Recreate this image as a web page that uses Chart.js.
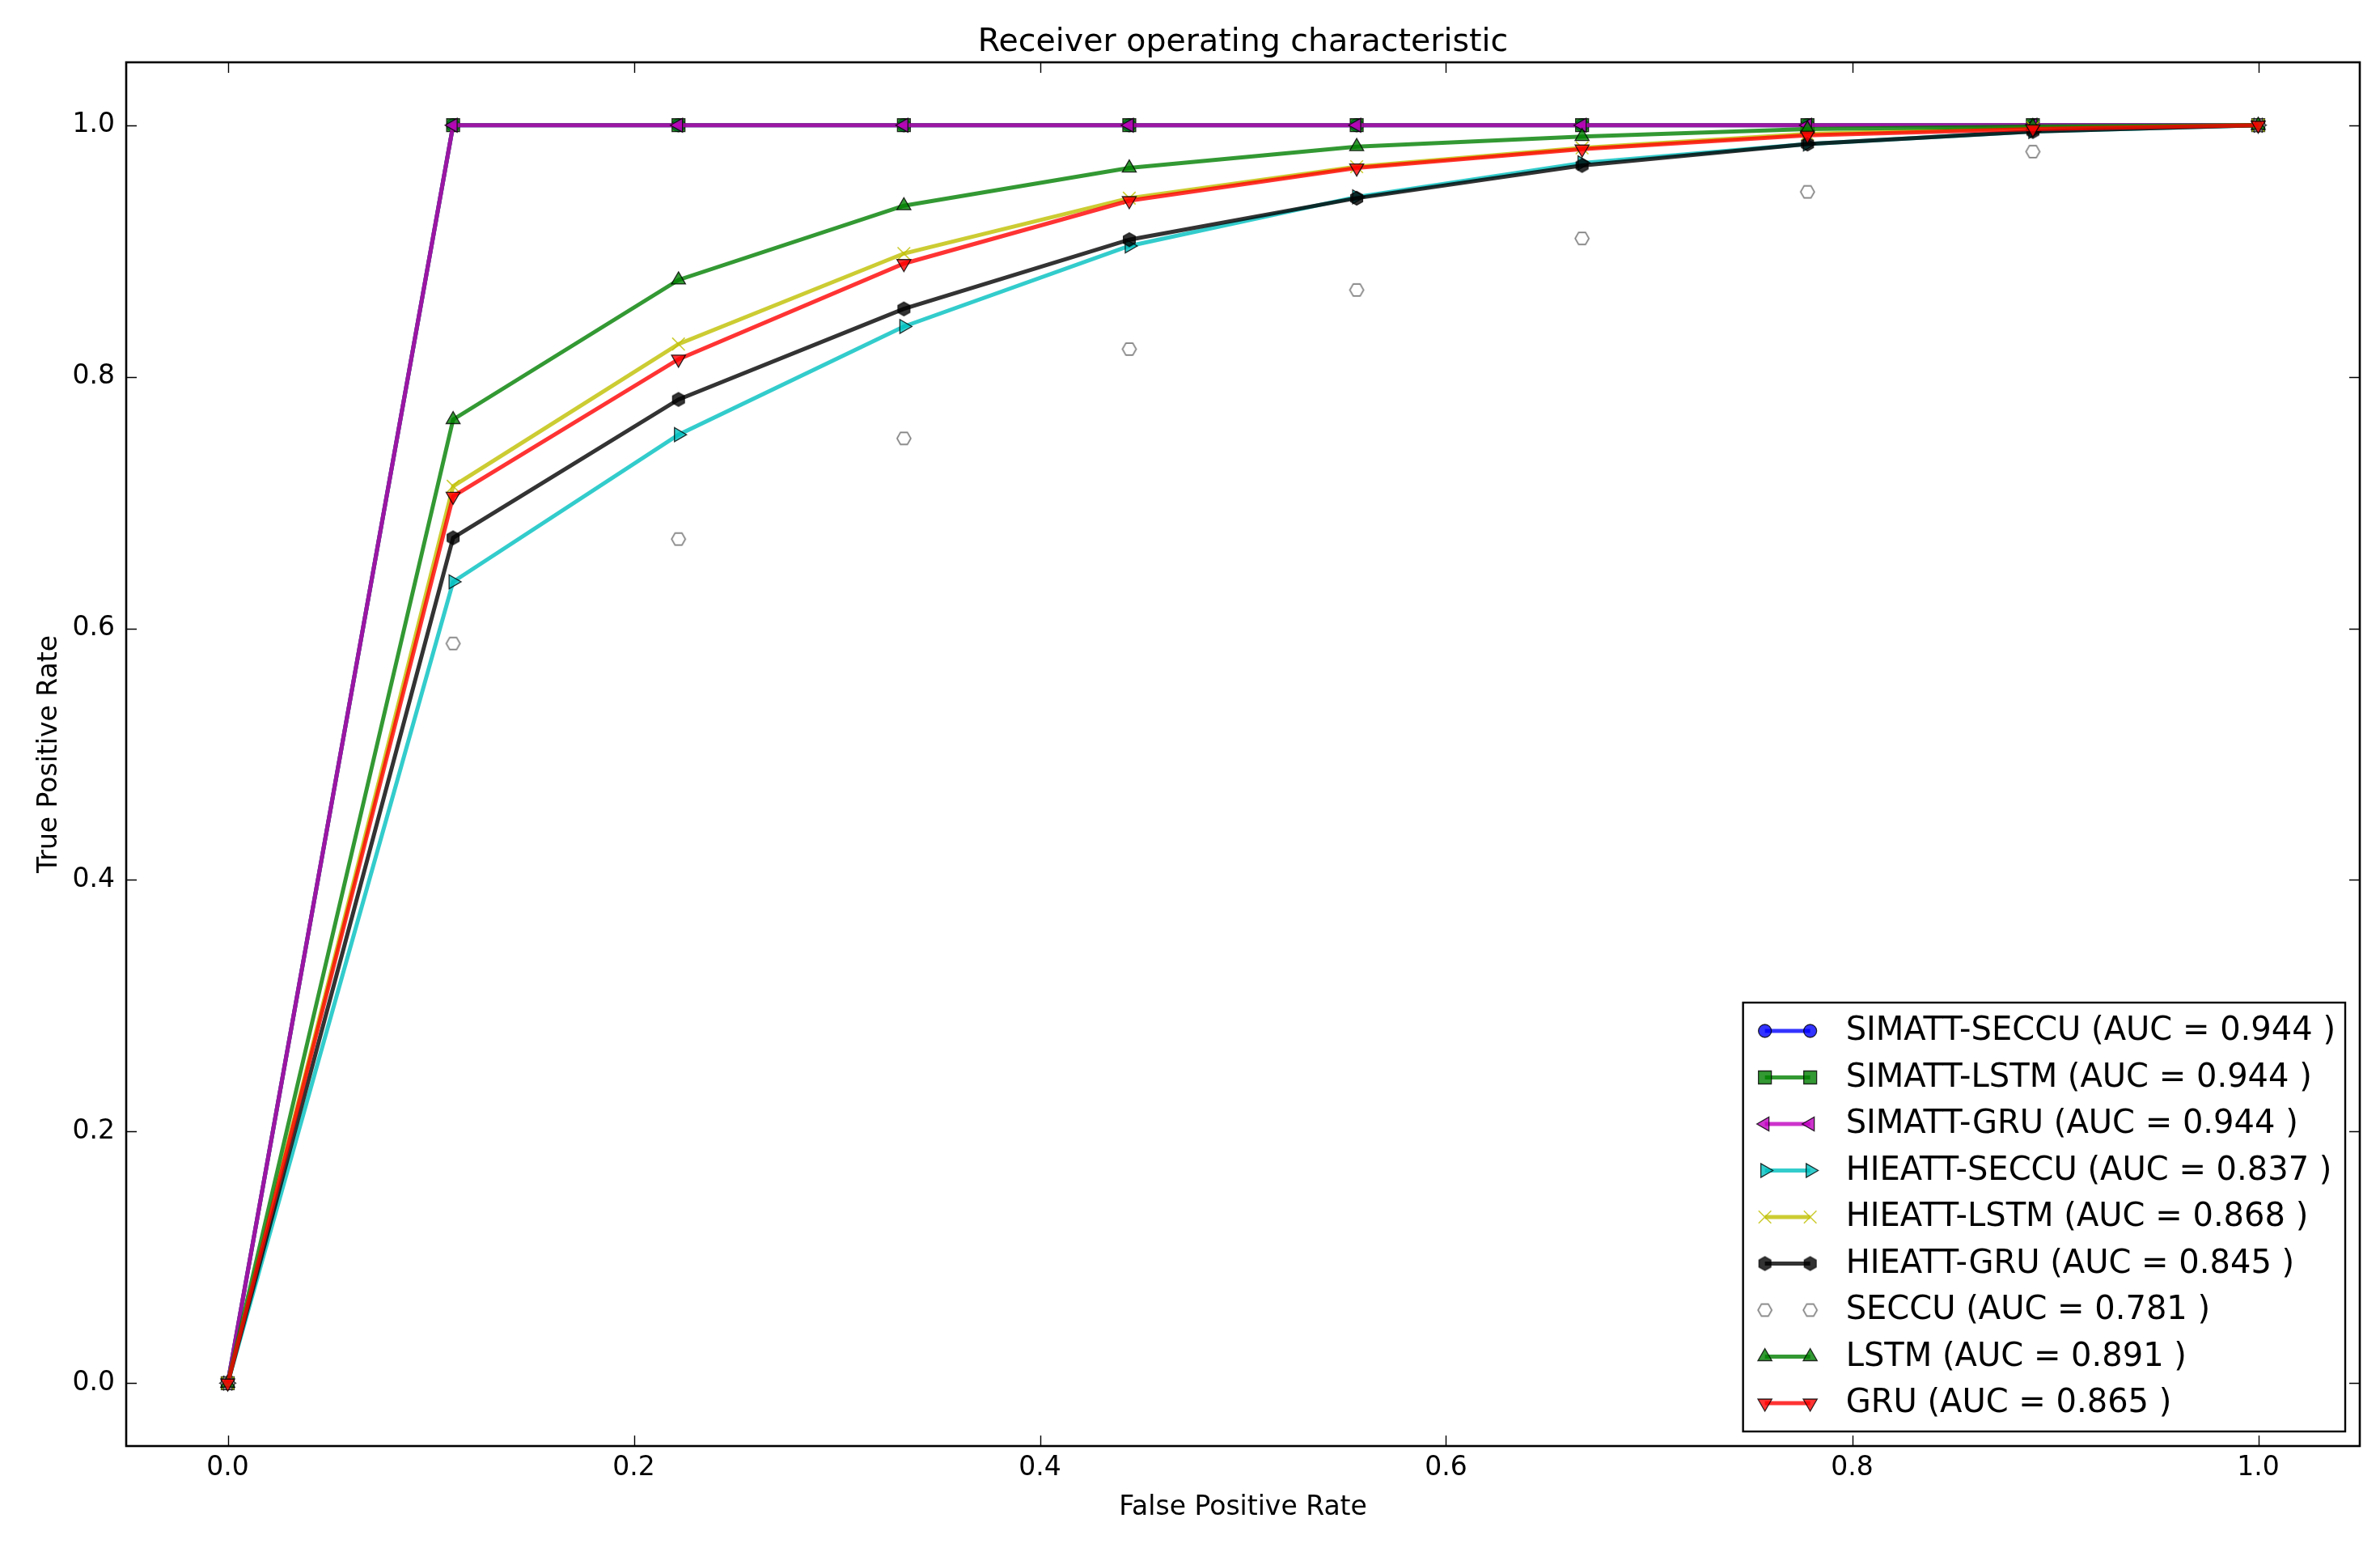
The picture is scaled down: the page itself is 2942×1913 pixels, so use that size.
<!DOCTYPE html>
<html>
<head>
<meta charset="utf-8">
<title>Receiver operating characteristic</title>
<script src="https://cdn.jsdelivr.net/npm/chart.js@4.4.1/dist/chart.umd.min.js"></script>
<style>
  html, body { margin: 0; padding: 0; background: #fff; }
  #wrap { width: 2942px; height: 1913px; }
</style>
</head>
<body>
<div id="wrap"><canvas id="roc"></canvas></div>
<script>
// false positive rate (shared x for every curve)
const fpr = [0, 0.111, 0.222, 0.333, 0.444, 0.556, 0.667, 0.778, 0.889, 1.0];

// true positive rate per model
const simattSeccu = [0, 1.0, 1.0, 1.0, 1.0, 1.0, 1.0, 1.0, 1.0, 1.0];
const simattLstm  = [0, 1.0, 1.0, 1.0, 1.0, 1.0, 1.0, 1.0, 1.0, 1.0];
const simattGru   = [0, 1.0, 1.0, 1.0, 1.0, 1.0, 1.0, 1.0, 1.0, 1.0];
const hieattSeccu = [0, 0.637, 0.754, 0.840, 0.904, 0.943, 0.970, 0.985, 0.995, 1.0];
const hieattLstm  = [0, 0.713, 0.826, 0.898, 0.942, 0.967, 0.982, 0.993, 0.998, 1.0];
const hieattGru   = [0, 0.672, 0.782, 0.854, 0.909, 0.942, 0.968, 0.985, 0.995, 1.0];
const seccu       = [0, 0.588, 0.671, 0.751, 0.822, 0.869, 0.910, 0.947, 0.979, 1.0];
const lstm        = [0, 0.766, 0.877, 0.936, 0.966, 0.983, 0.991, 0.997, 0.999, 1.0];
const gru         = [0, 0.705, 0.814, 0.890, 0.940, 0.966, 0.981, 0.992, 0.997, 1.0];

const seriesNames = [
  'SIMATT-SECCU (AUC = 0.944 )',
  'SIMATT-LSTM (AUC = 0.944 )',
  'SIMATT-GRU (AUC = 0.944 )',
  'HIEATT-SECCU (AUC = 0.837 )',
  'HIEATT-LSTM (AUC = 0.868 )',
  'HIEATT-GRU (AUC = 0.845 )',
  'SECCU (AUC = 0.781 )',
  'LSTM (AUC = 0.891 )',
  'GRU (AUC = 0.865 )'
];

const xTicks = [0.0, 0.2, 0.4, 0.6, 0.8, 1.0];
const yTicks = [0.0, 0.2, 0.4, 0.6, 0.8, 1.0];

const FONT = '"DejaVu Sans", "Liberation Sans", sans-serif';
const EDGE = 'rgba(0,0,0,0.8)';

// hexagon marker, matplotlib 'h' style
function hexMarker(fill, stroke, r, lw, flatTop) {
  const c = document.createElement('canvas');
  const s = Math.ceil(2 * r + 2 * lw + 2);
  c.width = s; c.height = s;
  const g = c.getContext('2d');
  g.beginPath();
  for (let k = 0; k < 6; k++) {
    const a = (flatTop ? 0 : -Math.PI / 2) + k * Math.PI / 3;
    const px = s / 2 + r * Math.cos(a), py = s / 2 + r * Math.sin(a);
    if (k === 0) g.moveTo(px, py); else g.lineTo(px, py);
  }
  g.closePath();
  if (fill) { g.fillStyle = fill; g.fill(); }
  g.lineWidth = lw; g.strokeStyle = stroke; g.stroke();
  return c;
}

const blackHex = hexMarker('rgba(0,0,0,0.8)', EDGE, 8.5, 1.3, false);
const hollowHex = hexMarker('rgba(255,255,255,0.8)', 'rgba(90,90,90,0.8)', 8.5, 1.6, true);

function series(i, data, color, style) {
  return Object.assign({
    label: seriesNames[i],
    data: fpr.map((x, k) => ({ x: x, y: data[k] })),
    borderColor: color,
    backgroundColor: color,
    borderWidth: 5,
    pointBackgroundColor: color,
    pointBorderColor: EDGE,
    pointBorderWidth: 1.3,
    tension: 0,
    order: 9 - i,   // later series are drawn on top, like matplotlib
    clip: false
  }, style);
}

const datasets = [
  series(0, simattSeccu, 'rgba(0,0,255,0.8)',   { pointStyle: 'circle', pointRadius: 8 }),
  series(1, simattLstm,  'rgba(0,128,0,0.8)',   { pointStyle: 'rect', pointRadius: 11.3 }),
  series(2, simattGru,   'rgba(191,0,191,0.8)', { pointStyle: 'triangle', pointRadius: 10, pointRotation: 270 }),
  series(3, hieattSeccu, 'rgba(0,191,191,0.8)', { pointStyle: 'triangle', pointRadius: 10, pointRotation: 90 }),
  series(4, hieattLstm,  'rgba(191,191,0,0.8)', { pointStyle: 'crossRot', pointRadius: 11, pointBorderColor: 'rgba(191,191,0,0.8)', pointBorderWidth: 1.6 }),
  series(5, hieattGru,   'rgba(0,0,0,0.8)',     { pointStyle: blackHex, pointRadius: 9 }),
  series(6, seccu,       'rgba(90,90,90,0.8)',  { pointStyle: hollowHex, pointRadius: 9, showLine: false }),
  series(7, lstm,        'rgba(0,128,0,0.8)',   { pointStyle: 'triangle', pointRadius: 10 }),
  series(8, gru,         'rgba(255,0,0,0.8)',   { pointStyle: 'triangle', pointRadius: 10, pointRotation: 180 })
];

// box round the axes with inward ticks on all four sides, plus the legend
const frame = {
  id: 'frame',
  afterDraw(chart) {
    const ctx = chart.ctx, ca = chart.chartArea;
    const xs = chart.scales.x, ys = chart.scales.y;
    const tl = 13;
    ctx.save();
    ctx.strokeStyle = '#000';
    ctx.lineWidth = 1.4;
    ctx.beginPath();
    xTicks.forEach(v => {
      const px = Math.round(xs.getPixelForValue(v)) + 0.5;
      ctx.moveTo(px, ca.bottom); ctx.lineTo(px, ca.bottom - tl);
      ctx.moveTo(px, ca.top); ctx.lineTo(px, ca.top + tl);
    });
    yTicks.forEach(v => {
      const py = Math.round(ys.getPixelForValue(v)) + 0.5;
      ctx.moveTo(ca.left, py); ctx.lineTo(ca.left + tl, py);
      ctx.moveTo(ca.right, py); ctx.lineTo(ca.right - tl, py);
    });
    ctx.stroke();
    ctx.lineWidth = 2.6;
    ctx.strokeRect(ca.left, ca.top, ca.right - ca.left, ca.bottom - ca.top);

    // legend
    const fs = 40;
    ctx.font = fs + 'px ' + FONT;
    let maxW = 0;
    chart.data.datasets.forEach(d => { maxW = Math.max(maxW, ctx.measureText(d.label).width); });
    const rowH = 57.5;
    const textOff = 127;
    const w = textOff + maxW + 12;
    const h = 35 + rowH * 8 + 35;
    const right = ca.right - 18, bottom = ca.bottom - 18;
    const left = right - w, top = bottom - h;
    ctx.fillStyle = '#fff';
    ctx.fillRect(left, top, w, h);
    ctx.lineWidth = 2.4;
    ctx.strokeStyle = '#000';
    ctx.strokeRect(left, top, w, h);
    chart.data.datasets.forEach((d, i) => {
      const cy = top + 35 + i * rowH;
      const x1 = left + 27, x2 = left + 83;
      if (d.showLine !== false) {
        ctx.strokeStyle = d.borderColor;
        ctx.lineWidth = d.borderWidth;
        ctx.beginPath(); ctx.moveTo(x1, cy); ctx.lineTo(x2, cy); ctx.stroke();
      }
      [x1, x2].forEach(px => {
        ctx.fillStyle = d.pointBackgroundColor;
        ctx.strokeStyle = d.pointBorderColor;
        ctx.lineWidth = d.pointBorderWidth;
        Chart.helpers.drawPoint(ctx, {
          pointStyle: d.pointStyle, radius: d.pointRadius,
          rotation: d.pointRotation || 0, borderWidth: d.pointBorderWidth
        }, px, cy);
      });
      ctx.fillStyle = '#000';
      ctx.textAlign = 'left';
      ctx.textBaseline = 'middle';
      ctx.fillText(d.label, left + textOff, cy + 1);
    });
    ctx.restore();
  }
};

const tickFont = { family: FONT, size: 33 };

new Chart(document.getElementById('roc'), {
  type: 'line',
  data: { datasets: datasets },
  options: {
    responsive: true,
    maintainAspectRatio: false,
    animation: false,
    events: [],
    layout: { padding: { left: 0, right: 25, top: 0, bottom: 0 } },
    plugins: {
      legend: { display: false },
      tooltip: { enabled: false },
      title: {
        display: true,
        fullSize: false,
        text: 'Receiver operating characteristic',
        color: '#000',
        font: { family: FONT, size: 39.5, weight: 'normal' },
        padding: { top: 29, bottom: 0.6 }
      }
    },
    scales: {
      x: {
        type: 'linear',
        min: -0.05, max: 1.05,
        grid: { display: false, drawTicks: false },
        border: { display: false },
        afterBuildTicks: s => { s.ticks = xTicks.map(v => ({ value: v })); },
        afterFit: s => { s.height = 126; },
        ticks: {
          color: '#000', font: tickFont, padding: 8, maxRotation: 0,
          callback: v => v.toFixed(1)
        },
        title: {
          display: true, text: 'False Positive Rate', color: '#000',
          font: tickFont, padding: { top: 0, bottom: 30 }
        }
      },
      y: {
        type: 'linear',
        min: -0.05, max: 1.05,
        grid: { display: false, drawTicks: false },
        border: { display: false },
        afterBuildTicks: s => { s.ticks = yTicks.map(v => ({ value: v })); },
        afterFit: s => { s.width = 156; },
        ticks: {
          color: '#000', font: tickFont, padding: 14,
          callback: v => v.toFixed(1)
        },
        title: {
          display: true, text: 'True Positive Rate', color: '#000',
          font: tickFont, padding: { top: 42, bottom: 0 }
        }
      }
    }
  },
  plugins: [frame]
});
</script>
</body>
</html>
